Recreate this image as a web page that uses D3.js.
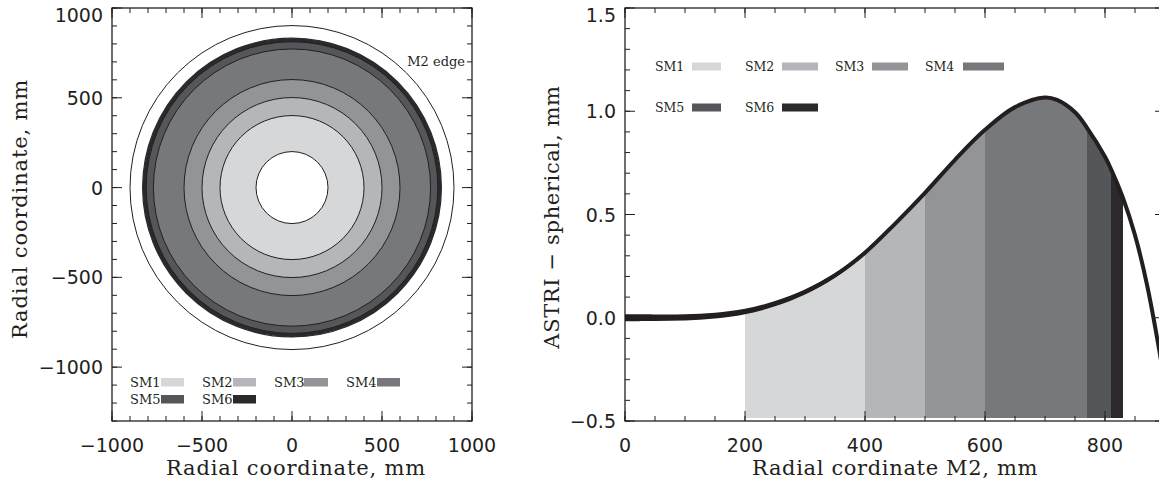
<!DOCTYPE html>
<html><head><meta charset="utf-8">
<script src="https://cdn.jsdelivr.net/npm/d3@7"></script>
<style>html,body{margin:0;padding:0;background:#fff;}svg{display:block;}</style>
</head><body>
<svg id="c" width="1159" height="479"></svg>
<script>
// ---- data ----
const segments = ["SM1","SM2","SM3","SM4","SM5","SM6"];
const segInner = [200, 400, 500, 600, 770, 810];
const segOuter = [400, 500, 600, 770, 810, 830];
const segColors = ["#d6d7d9","#b5b6b9","#939498","#77787c","#55565a","#2b292b"];
const m2EdgeRadius = 900;
const curveR = [0, 50, 100, 150, 200, 250, 300, 350, 400, 450, 500, 550, 600, 650, 700, 720, 750, 770, 800, 810, 830, 850, 870, 890, 900];
const curveZ = [0, 0.0003, 0.002, 0.01, 0.03, 0.068, 0.125, 0.205, 0.315, 0.455, 0.605, 0.765, 0.91, 1.02, 1.067, 1.055, 0.995, 0.92, 0.78, 0.72, 0.58, 0.4, 0.16, -0.15, -0.33];
const leftTicks = [-1000, -500, 0, 500, 1000];
const leftYTicks = [-1000, -500, 0, 500, 1000];
const rightXTicks = [0, 200, 400, 600, 800];
const rightYTicks = [-0.5, 0.0, 0.5, 1.0, 1.5];

const svg = d3.select("#c");
const INK = "#231f20";
const sans = "DejaVu Sans, sans-serif";
const serif = "DejaVu Serif, serif";

function frameAxes(g, x, y, xMajor, xMinor, yMajor, yMinor, fmtX, fmtY) {
  const [x0, x1] = x.range(), [y0, y1] = y.range();
  const maj = 10, mn = 5;
  const tg = g.append("g").attr("stroke", INK).attr("stroke-width", 1);
  const addX = (vals, len) => vals.forEach(v => {
    tg.append("line").attr("x1", x(v)).attr("x2", x(v)).attr("y1", y0).attr("y2", y0 - len);
    tg.append("line").attr("x1", x(v)).attr("x2", x(v)).attr("y1", y1).attr("y2", y1 + len);
  });
  const addY = (vals, len) => vals.forEach(v => {
    tg.append("line").attr("y1", y(v)).attr("y2", y(v)).attr("x1", x0).attr("x2", x0 + len);
    tg.append("line").attr("y1", y(v)).attr("y2", y(v)).attr("x1", x1).attr("x2", x1 - len);
  });
  addX(xMinor, mn); addX(xMajor, maj); addY(yMinor, mn); addY(yMajor, maj);
  g.append("rect").attr("x", x0).attr("y", y1).attr("width", x1 - x0).attr("height", y0 - y1)
    .attr("fill", "none").attr("stroke", INK).attr("stroke-width", 1.3);
  g.append("g").selectAll("text").data(xMajor).join("text")
    .attr("x", d => x(d)).attr("y", y0 + 31).attr("text-anchor", "middle")
    .attr("font-family", sans).attr("font-size", 19).attr("fill", INK).text(fmtX);
  g.append("g").selectAll("text").data(yMajor).join("text")
    .attr("x", x0 - 9).attr("y", d => Math.max(y(d) + 7, 22)).attr("text-anchor", "end")
    .attr("font-family", sans).attr("font-size", 19).attr("fill", INK).text(fmtY);
}

function legend(g, items, positions, swH, fs) {
  items.forEach((name, i) => {
    const p = positions[i];
    g.append("text").attr("x", p.tx).attr("y", p.ty).attr("font-family", serif)
      .attr("font-size", fs).attr("fill", INK).text(name);
    g.append("rect").attr("x", p.sx).attr("y", p.ty - swH - 0.5).attr("width", p.sw).attr("height", swH)
      .attr("fill", segColors[i]);
  });
}

// ================= LEFT PANEL =================
{
  const x = d3.scaleLinear().domain([-1000, 1000]).range([112, 472]);
  const y = d3.scaleLinear().domain([-1300, 1000]).range([421, 8]);
  const s = x(1) - x(0);
  const g = svg.append("g");
  const cx = x(0), cy = y(0);
  g.append("circle").attr("cx", cx).attr("cy", cy).attr("r", m2EdgeRadius * s)
    .attr("fill", "none").attr("stroke", INK).attr("stroke-width", 1);
  for (let i = segments.length - 1; i >= 0; i--) {
    g.append("circle").attr("cx", cx).attr("cy", cy).attr("r", segOuter[i] * s)
      .attr("fill", segColors[i]).attr("stroke", i < 5 ? INK : "none").attr("stroke-width", 1);
  }
  g.append("circle").attr("cx", cx).attr("cy", cy).attr("r", segInner[0] * s)
    .attr("fill", "#fff").attr("stroke", INK).attr("stroke-width", 1);
  g.append("circle").attr("cx", cx).attr("cy", cy).attr("r", segOuter[5] * s)
    .attr("fill", "none").attr("stroke", "#2b292b").attr("stroke-width", 1.2);

  g.append("text").attr("x", 465).attr("y", y(700) + 4).attr("text-anchor", "end")
    .attr("font-family", serif).attr("font-size", 13).attr("fill", INK).text("M2 edge");

  const minorX = d3.range(-1000, 1001, 100);
  const minorY = d3.range(-1300, 1001, 100);
  const fmt = d => d < 0 ? "\u2212" + Math.abs(d) : String(d);
  frameAxes(g, x, y, leftTicks, minorX, leftYTicks, minorY, fmt, fmt);

  g.append("text").attr("x", 296).attr("y", 475).attr("text-anchor", "middle")
    .attr("font-family", serif).attr("font-size", 21).attr("letter-spacing", 0.85)
    .attr("fill", INK).text("Radial coordinate, mm");
  g.append("text").attr("transform", "translate(27,209) rotate(-90)").attr("text-anchor", "middle")
    .attr("font-family", serif).attr("font-size", 21).attr("letter-spacing", 0.85)
    .attr("fill", INK).text("Radial coordinate, mm");

  const lp = [
    {tx:130, ty:387, sx:161, sw:23}, {tx:202, ty:387, sx:233, sw:23},
    {tx:274, ty:387, sx:304, sw:24}, {tx:346, ty:387, sx:377, sw:23},
    {tx:130, ty:404, sx:161, sw:23}, {tx:202, ty:404, sx:233, sw:23}];
  legend(g, segments, lp, 8.5, 13);
}

// ================= RIGHT PANEL =================
{
  const x = d3.scaleLinear().domain([0, 900]).range([625, 1165]);
  const y = d3.scaleLinear().domain([-0.5, 1.5]).range([421, 8]);
  const g = svg.append("g");
  const data = curveR.map((r, i) => ({r, z: curveZ[i]}));
  const curve = d3.curveCatmullRom.alpha(0.5);
  const area = d3.area().x(d => x(d.r)).y0(y(-0.485)).y1(d => y(d.z)).curve(curve);
  const defs = svg.append("defs");
  segments.forEach((name, i) => {
    defs.append("clipPath").attr("id", "clip" + i).append("rect")
      .attr("x", x(segInner[i])).attr("y", 0)
      .attr("width", x(segOuter[i]) - x(segInner[i])).attr("height", y(-0.5));
    g.append("path").datum(data).attr("d", area).attr("fill", segColors[i])
      .attr("clip-path", "url(#clip" + i + ")");
  });
  const line = d3.line().x(d => x(d.r)).y(d => y(d.z)).curve(curve);
  g.append("path").datum(data).attr("d", line).attr("fill", "none")
    .attr("stroke", INK).attr("stroke-width", 4).attr("stroke-linejoin", "round");
  const halfW = d3.scaleLinear().domain([0, 450]).range([3.4, 2]).clamp(true);
  const band = d3.area().x(d => x(d.r)).y0(d => y(d.z) + halfW(d.r)).y1(d => y(d.z) - halfW(d.r)).curve(curve);
  g.append("path").datum(data.filter(d => d.r <= 450)).attr("d", band).attr("fill", INK);

  const minorX = d3.range(0, 901, 50);
  const minorY = d3.range(-5, 16, 1).map(v => v / 10);
  frameAxes(g, x, y, rightXTicks, minorX, rightYTicks, minorY, d => String(d), d => d3.format(".1f")(d).replace("-", "\u2212"));

  g.append("text").attr("x", 895).attr("y", 475).attr("text-anchor", "middle")
    .attr("font-family", serif).attr("font-size", 21).attr("letter-spacing", 0.65)
    .attr("fill", INK).text("Radial cordinate M2, mm");
  g.append("text").attr("transform", "translate(559,217) rotate(-90)").attr("text-anchor", "middle")
    .attr("font-family", serif).attr("font-size", 21).attr("letter-spacing", 0.65)
    .attr("fill", INK).text("ASTRI \u2212 spherical, mm");

  const rp = [
    {tx:655, ty:71, sx:692, sw:29}, {tx:745, ty:71, sx:782, sw:36},
    {tx:835, ty:71, sx:872, sw:36}, {tx:925, ty:71, sx:963, sw:41},
    {tx:655, ty:112, sx:692, sw:29}, {tx:745, ty:112, sx:782, sw:36}];
  legend(g, segments, rp, 8, 12.5);
}
</script>
</body></html>
